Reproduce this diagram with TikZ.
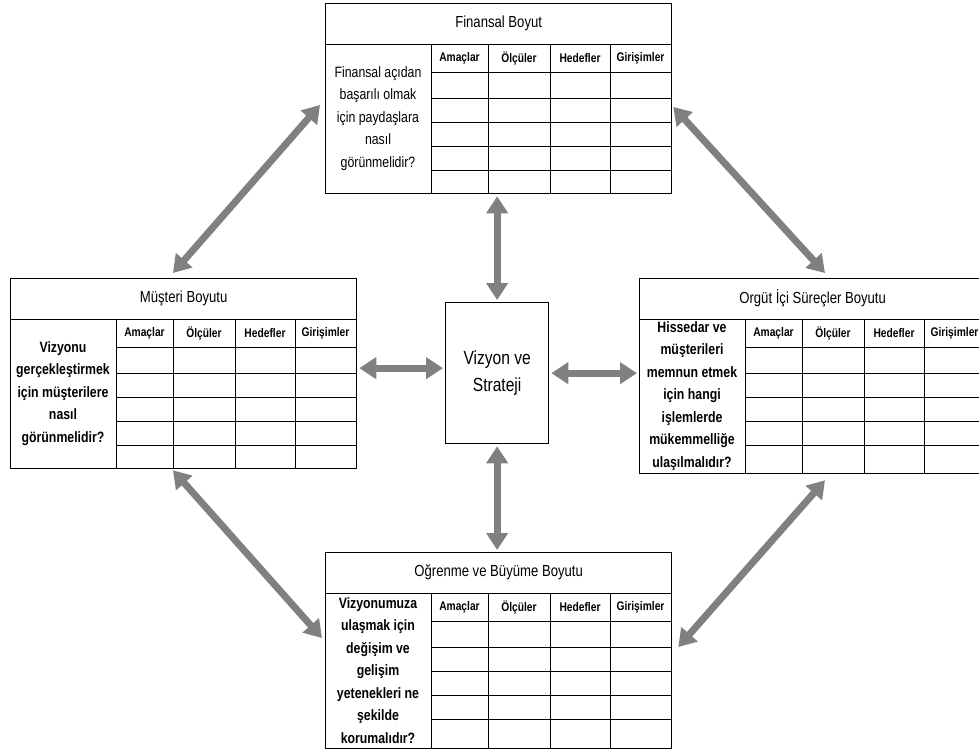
\documentclass[tikz,border=0pt]{standalone}
\usepackage{fontspec}
\setmainfont[FakeStretch=0.82]{Liberation Sans}
\usetikzlibrary{arrows.meta, positioning, calc}
\definecolor{arrowgray}{RGB}{128,128,128}

\tikzset{
  panel/.style={draw, line width=1.3pt, minimum width=346pt, inner sep=0pt, anchor=north west},
  cellline/.style={line width=0.9pt},
  biarrow/.style={draw=arrowgray, line width=7pt,
    {Triangle[width=21pt,length=17pt]}-{Triangle[width=21pt,length=17pt]}},
}

% one perspective: name, top left corner, body height, title, weight, question
\newcommand{\bscpanel}[6]{%
  \node[panel, minimum height={(41+#3)*1pt}] (#1) at (#2) {};
  \node[font=\fontsize{16}{19}\selectfont] (#1-title) at ([yshift=-20.5pt]#1.north) {#4};
  \draw[cellline] ([yshift=-41pt]#1.north west) -- ([yshift=-41pt]#1.north east);
  \foreach \cx in {106,163,225,285}
    \draw[cellline] ([xshift=\cx pt, yshift=-41pt]#1.north west) -- ([xshift=\cx pt]#1.south west);
  \foreach \ry in {28,54,78,102,126}
    \draw[cellline] ([xshift=106pt, yshift={-(41+\ry)*1pt}]#1.north west) -- ([yshift={-(41+\ry)*1pt}]#1.north east);
  \foreach \lbl/\cx [count=\i] in {Amaçlar/134.5, Ölçüler/194, Hedefler/255, Girişimler/315.5}
    \node[font=\bfseries\fontsize{12.5}{15}\selectfont] (#1-col\i) at ([xshift=\cx pt, yshift=-55pt]#1.north west) {\lbl};
  \node[align=center, font=#5\fontsize{15}{22.5}\selectfont] (#1-q)
    at ([xshift=53pt, yshift={-(41+#3/2)*1pt}]#1.north west) {#6};
}

\begin{document}
\begin{tikzpicture}[x=1pt, y=-1pt]
  \useasboundingbox (0,0) rectangle (979,751);

  % Perspectives
  \bscpanel{fin}{325,3}{149}{Finansal Boyut}{\mdseries}%
    {Finansal açıdan\\başarılı olmak\\için paydaşlara\\nasıl\\görünmelidir?}
  \bscpanel{mus}{10,278}{149}{Müşteri Boyutu}{\bfseries}%
    {Vizyonu\\gerçekleştirmek\\için müşterilere\\nasıl\\görünmelidir?}
  \bscpanel{org}{639,278}{154}{Orgüt İçi Süreçler Boyutu}{\bfseries}%
    {Hissedar ve\\müşterileri\\memnun etmek\\için hangi\\işlemlerde\\mükemmelliğe\\ulaşılmalıdır?}
  \bscpanel{ogr}{325,552}{155}{Oğrenme ve Büyüme Boyutu}{\bfseries}%
    {Vizyonumuza\\ulaşmak için\\değişim ve\\gelişim\\yetenekleri ne\\şekilde\\korumalıdır?}

  % Center
  \node[draw, line width=1.3pt, minimum width=103pt, minimum height=141pt, anchor=north west,
    align=center, font=\fontsize{19}{27}\selectfont] (ctr) at (445,302) {Vizyon ve\\Strateji};

  % Arrows
  \coordinate (lm) at ([yshift=5pt]ctr.west);
  \draw[biarrow, shorten <=2pt, shorten >=2pt] (ctr.north) -- (ctr.north |- fin.south);
  \draw[biarrow, shorten <=2pt, shorten >=2pt] (lm) -- (lm -| mus.east);
  \draw[biarrow, shorten <=2pt, shorten >=2pt] (ctr.east) -- (ctr.east -| org.west);
  \draw[biarrow, shorten <=2pt, shorten >=2pt] (ctr.south) -- (ctr.south |- ogr.north);

  \draw[biarrow] ([xshift=163pt, yshift=5pt]mus.north west) -- ([xshift=-5pt, yshift=-102pt]fin.north west);
  \draw[biarrow] ([xshift=1pt, yshift=-104pt]fin.north east) -- ([xshift=186pt, yshift=5pt]org.north west);
  \draw[biarrow] ([xshift=163pt, yshift=-1pt]mus.south west) -- ([xshift=-3pt, yshift=-86pt]ogr.north west);
  \draw[biarrow] ([xshift=186pt, yshift=-6pt]org.south west) -- ([xshift=6pt, yshift=-95pt]ogr.north east);
\end{tikzpicture}
\end{document}
